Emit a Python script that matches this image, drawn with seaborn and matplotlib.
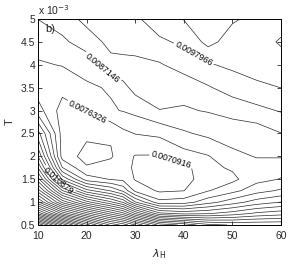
import numpy as np
import matplotlib
matplotlib.use("Agg")
import matplotlib.pyplot as plt
import seaborn as sns

# grid (lambda_H columns, T rows in units of 1e-3)
lam = [10, 15, 20, 25, 27.5, 30, 35, 40, 45, 50, 55, 60]
T_e3 = [0.5, 0.75, 1.0, 1.25, 1.5, 1.75, 2.0, 2.5, 3.0, 3.5, 4.0, 4.5, 5.0]

col_10 = [0.0250, 0.0205, 0.0175, 0.0155, 0.0138, 0.0125, 0.0114, 0.0100, 0.0084, 0.0079, 0.00811, 0.0084, 0.00872]
col_15 = [0.0222, 0.0178, 0.0145, 0.0120, 0.0097, 0.0082, 0.0074, 0.0074, 0.0074, 0.0078, 0.0082, 0.0086, 0.0090]
col_20 = [0.0198, 0.0160, 0.0127, 0.0100, 0.0079, 0.00715, 0.0069, 0.0072, 0.00765, 0.0081, 0.00835, 0.0090, 0.0094]
col_25 = [0.0178, 0.0145, 0.0115, 0.0092, 0.0076, 0.00725, 0.00705, 0.00714, 0.00812, 0.00822, 0.0091, 0.0094, 0.0096]
col_275 = [0.0172, 0.0138, 0.0108, 0.0086, 0.0075, 0.0073, 0.0073, 0.0075, 0.0082, 0.00855, 0.0091, 0.00945, 0.00965]
col_30 = [0.0163, 0.0125, 0.0093, 0.0075, 0.00705, 0.0070, 0.00706, 0.00765, 0.00832, 0.0089, 0.0091, 0.0095, 0.0097]
col_35 = [0.0145, 0.0105, 0.0078, 0.0070, 0.0068, 0.0068, 0.00705, 0.00775, 0.0087, 0.0090, 0.0092, 0.0097, 0.0101]
col_40 = [0.0140, 0.0102, 0.0079, 0.00708, 0.0068, 0.0069, 0.0074, 0.0081, 0.00866, 0.0089, 0.0095, 0.0099, 0.01036]
col_45 = [0.0132, 0.0103, 0.0085, 0.0076, 0.0075, 0.0075, 0.0076, 0.0083, 0.00875, 0.0092, 0.00975, 0.0105, 0.0106]
col_50 = [0.0130, 0.0106, 0.0090, 0.0080, 0.0075, 0.0077, 0.00805, 0.0084, 0.0089, 0.0095, 0.0099, 0.0101, 0.0104]
col_55 = [0.0130, 0.0110, 0.0095, 0.0085, 0.0080, 0.0080, 0.0082, 0.0084, 0.0091, 0.0097, 0.0100, 0.0101, 0.0102]
col_60 = [0.0130, 0.0112, 0.0098, 0.0088, 0.0082, 0.0080, 0.0082, 0.0087, 0.0093, 0.0098, 0.0101, 0.0104, 0.0101]

level_start = 0.0070916
level_step = 0.000541
labelled_levels = [0.0070916, 0.0076326, 0.0087146, 0.0097966, 0.0108786]
label_pos = [(37.4, 1.92), (20.3, 3.0), (23.2, 3.93), (41.9, 4.21), (14.1, 1.46)]

Z = np.column_stack([col_10, col_15, col_20, col_25, col_275, col_30, col_35,
                     col_40, col_45, col_50, col_55, col_60])
X, Y = np.meshgrid(lam, T_e3)

sns.set_style("ticks")
plt.rcParams['font.family'] = ['Liberation Sans', 'DejaVu Sans']

fig = plt.figure(figsize=(2.93, 2.68), dpi=100)
ax = fig.add_axes([38/293, 1-225/268, (281-38)/293, (225-19)/268])

n_levels = int((Z.max() - level_start) / level_step) + 1
levels = level_start + level_step * np.arange(n_levels)
is_lab = np.array([any(abs(l - v) < 1e-8 for v in labelled_levels) for l in levels])
line_kw = dict(colors='#2a2a2a', linewidths=0.5)
ax.contour(X, Y, Z, levels=levels[~is_lab], **line_kw)
cs_lab = ax.contour(X, Y, Z, levels=levels[is_lab], **line_kw)
ax.clabel(cs_lab, manual=label_pos, fmt='%.5g', fontsize=6.3,
          inline=True, inline_spacing=2, colors='k')

ax.set_xlim(10, 60)
ax.set_ylim(0.5, 5)
ax.set_xticks([10, 20, 30, 40, 50, 60])
ax.set_yticks([0.5, 1, 1.5, 2, 2.5, 3, 3.5, 4, 4.5, 5])
ax.set_yticklabels(['0.5', '1', '1.5', '2', '2.5', '3', '3.5', '4', '4.5', '5'])
ax.tick_params(direction='in', length=3, width=0.6, labelsize=7.5, top=True, right=True, pad=2)
ax.tick_params(axis='x', pad=4)
for s in ax.spines.values():
    s.set_linewidth(0.7)
    s.set_color('k')

ax.set_xlabel(r'$\lambda_\mathrm{H}$', fontsize=8, labelpad=5)
ax.set_ylabel('T', fontsize=8, labelpad=4)
ax.text(0.0, 1.012, r'x 10$^{-3}$', transform=ax.transAxes, fontsize=7.5, ha='left', va='bottom')
ax.text(0.03, 0.975, 'b)', transform=ax.transAxes, fontsize=8, ha='left', va='top')

fig.savefig('out.png', dpi=100)
